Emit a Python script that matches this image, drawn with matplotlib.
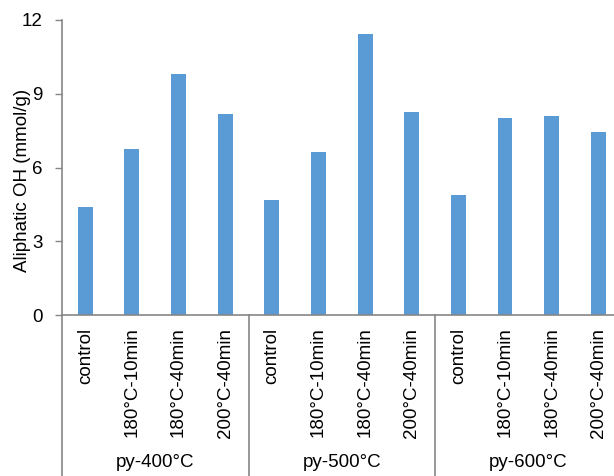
import matplotlib
matplotlib.use("Agg")
import matplotlib.pyplot as plt
import matplotlib.transforms as mtransforms
import numpy as np

plt.rcParams['font.family'] = ['Liberation Sans', 'DejaVu Sans']

groups = ["py-400°C", "py-500°C", "py-600°C"]
treatments = ["control", "180°C-10min", "180°C-40min", "200°C-40min"]
aliphatic_oh = [
    [4.38, 6.74, 9.80, 8.18],   # py-400°C
    [4.67, 6.62, 11.43, 8.25],  # py-500°C
    [4.89, 8.01, 8.08, 7.46],   # py-600°C
]
yticks = [0, 3, 6, 9, 12]

bar_color = "#5B9BD5"
axis_color = "#868686"
fs = 13.5

fig = plt.figure(figsize=(6.14, 4.76), dpi=100)
ax = fig.add_axes([62 / 614, 1 - 315 / 476, (621.6 - 62) / 614, 295 / 476])

values = [v for grp in aliphatic_oh for v in grp]
labels = [t for _ in groups for t in treatments]
x = np.arange(len(values))
ax.bar(x, values, width=0.32, color=bar_color, zorder=2)

ax.set_xlim(-0.5, len(values) - 0.5)
ax.set_ylim(0, 12)
ax.set_yticks(yticks)
ax.set_yticklabels([str(t) for t in yticks], fontsize=fs)
ax.tick_params(axis='y', length=5, width=1, color=axis_color, pad=9)

ax.set_xticks(x)
ax.set_xticklabels(labels, rotation=90, fontsize=fs, va='top', ha='center')
ax.tick_params(axis='x', length=0, pad=9)

for side in ("top", "right"):
    ax.spines[side].set_visible(False)
for side in ("left", "bottom"):
    ax.spines[side].set_color(axis_color)
    ax.spines[side].set_linewidth(1.2)

# group separators and group labels below the category labels
trans = mtransforms.blended_transform_factory(ax.transData, ax.transAxes)
n = len(treatments)
for g in range(len(groups) + 1):
    xb = g * n - 0.5
    ax.plot([xb, xb], [0, -0.6], transform=trans, color=axis_color,
            lw=1.2, clip_on=False, zorder=3)
for g, name in enumerate(groups):
    xc = g * n + (n - 1) / 2
    ax.text(xc, -0.50, name, transform=trans, ha='center', va='center',
            fontsize=fs)

fig.text(23 / 614, 1 - 180.5 / 476, "Aliphatic OH (mmol/g)", rotation=90,
         ha='center', va='center', fontsize=fs)

fig.savefig("out.png", dpi=100)
